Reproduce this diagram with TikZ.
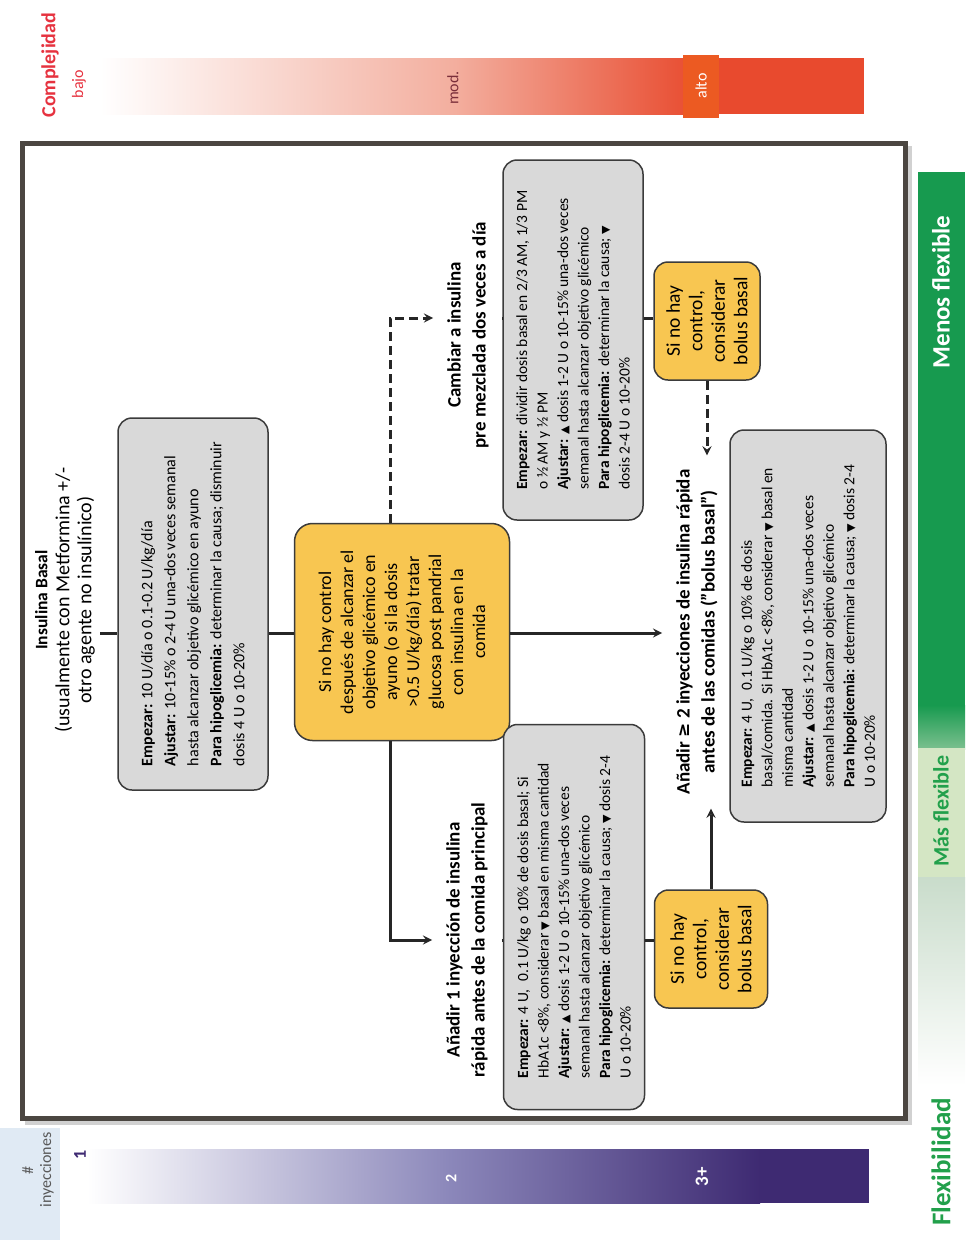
\documentclass[tikz,border=0pt]{standalone}
\usepackage{fontspec}
\setmainfont{Carlito}
\newfontfamily\symfont{DejaVu Sans}
\usepackage{tikz}

\definecolor{boxgray}{HTML}{D9D9D9}
\definecolor{ctlyellow}{HTML}{F8C651}
\definecolor{edgegray}{HTML}{3B3B3B}
\definecolor{framecol}{HTML}{4B4641}
\definecolor{cmpred}{HTML}{E6323F}
\definecolor{cmplight}{HTML}{F3AE9E}
\definecolor{barred}{HTML}{E84A2E}
\definecolor{altored}{HTML}{EC5A22}
\definecolor{modcol}{HTML}{7A2E3A}
\definecolor{flexgreen}{HTML}{179A4F}
\definecolor{flexmid}{HTML}{7CC08F}
\definecolor{flextext}{HTML}{22A04B}
\definecolor{palegreen}{HTML}{D4E6C4}
\definecolor{palegray}{HTML}{C9DCCB}
\definecolor{injpurple}{HTML}{3E2A72}
\definecolor{injmid}{HTML}{8B87BA}
\definecolor{injlight}{HTML}{C6DCE2}
\definecolor{injbg}{HTML}{E0EAF4}

\newcommand{\tup}{{\symfont\fontsize{11}{11}\selectfont ▲}}
\newcommand{\tdown}{{\symfont\fontsize{11}{11}\selectfont ▼}}

\begin{document}
\begin{tikzpicture}[x=1pt,y=-1pt,>=stealth,
    infnode/.style={draw=edgegray, line width=1.5pt, fill=boxgray, rounded corners=14pt, rotate=90, align=left, inner sep=0pt, font=\fontsize{15.5}{20.5}\selectfont},
    ctlnode/.style={draw=edgegray, line width=1.5pt, fill=ctlyellow, rounded corners=18pt, rotate=90, align=center, inner sep=0pt, font=\fontsize{18}{22}\selectfont},
    lblnode/.style={rotate=90, align=center, inner sep=14pt, font=\bfseries\fontsize{19}{25}\selectfont},
    link/.style={line width=3pt, draw=black!85},
    dashlink/.style={link, dash pattern=on 9pt off 5pt}]
    \useasboundingbox (0,0) rectangle (970,1240);

    \shade[left color=white, right color=cmplight] (100,58) rectangle (455,114);
    \shade[left color=cmplight, right color=barred] (455,58) rectangle (700,114);
    \fill[barred] (699,58) rectangle (864,114);
    \node[rotate=90, text=cmpred, font=\bfseries\fontsize{20}{20}\selectfont] (cmp) at (50,65) {Complejidad};
    \node[rotate=90, text=cmpred, font=\fontsize{16}{16}\selectfont] (bajo) at (79,84) {bajo};
    \node[rotate=90, text=modcol, font=\fontsize{16}{16}\selectfont] (mod) at (453,88) {mod.};
    \node[rotate=90, fill=altored, text=white, minimum width=63pt, minimum height=36pt, font=\fontsize{16}{16}\selectfont] (alto) at (701,86) {alto};

    \fill[injbg] (0,1128) rectangle (60,1240);
    \shade[left color=white, middle color=injlight, right color=injmid] (87,1149) rectangle (450,1203);
    \shade[left color=injmid, right color=injpurple] (450,1149) rectangle (760,1203);
    \fill[injpurple] (759,1149) rectangle (869,1203);
    \node[rotate=90, align=center, text=black!65, font=\fontsize{16}{18}\selectfont] (inj) at (38,1170) {\#\\inyecciones};
    \node[rotate=90, text=injpurple, font=\bfseries\fontsize{18}{18}\selectfont] (uno) at (80,1155) {1};
    \node[rotate=90, text=white, font=\bfseries\fontsize{16}{16}\selectfont] (dos) at (451,1178) {2};
    \node[rotate=90, text=white, font=\bfseries\fontsize{19}{19}\selectfont] (tres) at (702,1177) {3+};

    \fill[flexgreen] (918,172) rectangle (965,706);
    \shade[top color=flexgreen, bottom color=flexmid] (918,705) rectangle (965,749);
    \fill[palegreen] (918,748) rectangle (965,878);
    \shade[top color=palegray, bottom color=white] (918,877) rectangle (965,1085);
    \node[rotate=90, text=white, font=\bfseries\fontsize{25}{25}\selectfont] (menos) at (941,292) {Menos flexible};
    \node[rotate=90, text=flextext, font=\bfseries\fontsize{22}{22}\selectfont] (mas) at (941,811) {Más flexible};
    \node[rotate=90, text=flextext, font=\bfseries\fontsize{27}{27}\selectfont] (flex) at (941,1162) {Flexibilidad};

    \draw[line width=4pt, black!18] (27,148) rectangle (910,1123);
    \draw[line width=5pt, framecol, fill=white] (22,143) rectangle (905,1118);

    \coordinate (axis) at (0,633);
    \coordinate (tax) at (0,318);
    \coordinate (bax) at (0,940);
    \coordinate (brx) at (390,0);

    \node[lblnode, font=\fontsize{20}{22}\selectfont, inner sep=5pt] (hdr) at (65,600) {{\bfseries\fontsize{17.5}{22}\selectfont Insulina Basal}\\(usualmente con Metformina +/-\\otro agente no insulínico)};
    \node[infnode, minimum width=372pt, minimum height=150pt, font=\fontsize{16}{23}\selectfont] (bas) at (193,604) {\textbf{Empezar:} 10 U/día o 0.1-0.2 U/kg/día\\\textbf{Ajustar:} 10-15\% o 2-4 U una-dos veces semanal\\hasta alcanzar objetivo glicémico en ayuno\\\textbf{Para hipoglicemia:} determinar la causa; disminuir\\dosis 4 U o 10-20\%};
    \node[ctlnode, minimum width=217pt, minimum height=215pt] (ctl) at (402,632) {Si no hay control\\después de alcanzar el\\objetivo glicémico en\\ayuno (o si la dosis\\>0.5 U/kg/día) tratar\\glucosa post pandrial\\con insulina en la\\comida};

    \node[lblnode] (pre) at (468,335) {Cambiar a insulina\\pre mezclada dos veces a día};
    \node[infnode, minimum width=360pt, minimum height=140pt] (mix) at (573,340) {\textbf{Empezar:} dividir dosis basal en 2/3 AM, 1/3 PM\\o ½ AM y ½ PM\\\textbf{Ajustar:} \tup{} dosis 1-2 U o 10-15\% una-dos veces\\semanal hasta alcanzar objetivo glicémico\\\textbf{Para hipoglicemia:} determinar la causa; \tdown\\dosis 2-4 U o 10-20\%};
    \node[ctlnode, minimum width=118pt, minimum height=106pt, rounded corners=14pt, font=\fontsize{19.5}{22.5}\selectfont] (nomix) at (707,321) {Si no hay\\control,\\considerar\\bolus basal};

    \node[lblnode] (one) at (467,940) {Añadir 1 inyección de insulina\\rápida antes de la comida principal};
    \node[infnode, minimum width=385pt, minimum height=141pt] (onebox) at (574,917) {\textbf{Empezar:} 4 U,\enspace 0.1 U/kg o 10\% de dosis basal; Si\\HbA1c <8\%, considerar \tdown{} basal en misma cantidad\\\textbf{Ajustar:} \tup{} dosis 1-2 U o 10-15\% una-dos veces\\semanal hasta alcanzar objetivo glicémico\\\textbf{Para hipoglicemia:} determinar la causa; \tdown{} dosis 2-4\\U o 10-20\%};
    \node[ctlnode, minimum width=118pt, minimum height=113pt, rounded corners=14pt, font=\fontsize{19.5}{22.5}\selectfont] (noone) at (711,949) {Si no hay\\control,\\considerar\\bolus basal};

    \node[lblnode] (multi) at (697,632) {Añadir {\symfont\bfseries\fontsize{17}{17}\selectfont ≥} 2 inyecciones de insulina rápida\\antes de las comidas ("bolus basal")};
    \node[infnode, minimum width=392pt, minimum height=156pt] (multibox) at (808,626) {\textbf{Empezar:} 4 U,\enspace 0.1 U/kg o 10\% de dosis\\basal/comida. Si HbA1c <8\%, considerar \tdown{} basal en\\misma cantidad\\\textbf{Ajustar:} \tup{} dosis 1-2 U o 10-15\% una-dos veces\\semanal hasta alcanzar objetivo glicémico\\\textbf{Para hipoglicemia:} determinar la causa; \tdown{} dosis 2-4\\U o 10-20\%};

    \draw[link] (hdr.south |- axis) -- (bas.north |- axis);
    \draw[link] (bas.south |- axis) -- (ctl.north |- axis);
    \draw[link,->] (ctl.south |- axis) -- (multi.north |- axis);
    \draw[dashlink,->] (ctl.east -| brx) |- (pre.north |- tax);
    \draw[link,->] (ctl.west -| brx) |- (one.north |- bax);
    \draw[link] (pre.south |- tax) -- (mix.north |- tax);
    \draw[link] (mix.south |- tax) -- (nomix.north |- tax);
    \draw[link] (one.south |- bax) -- (onebox.north |- bax);
    \draw[link] (onebox.south |- bax) -- (noone.north |- bax);
    \draw[dashlink,->] (nomix) -- (nomix |- multi.east);
    \draw[link,->] (noone) -- (noone |- multi.west);
\end{tikzpicture}
\end{document}
